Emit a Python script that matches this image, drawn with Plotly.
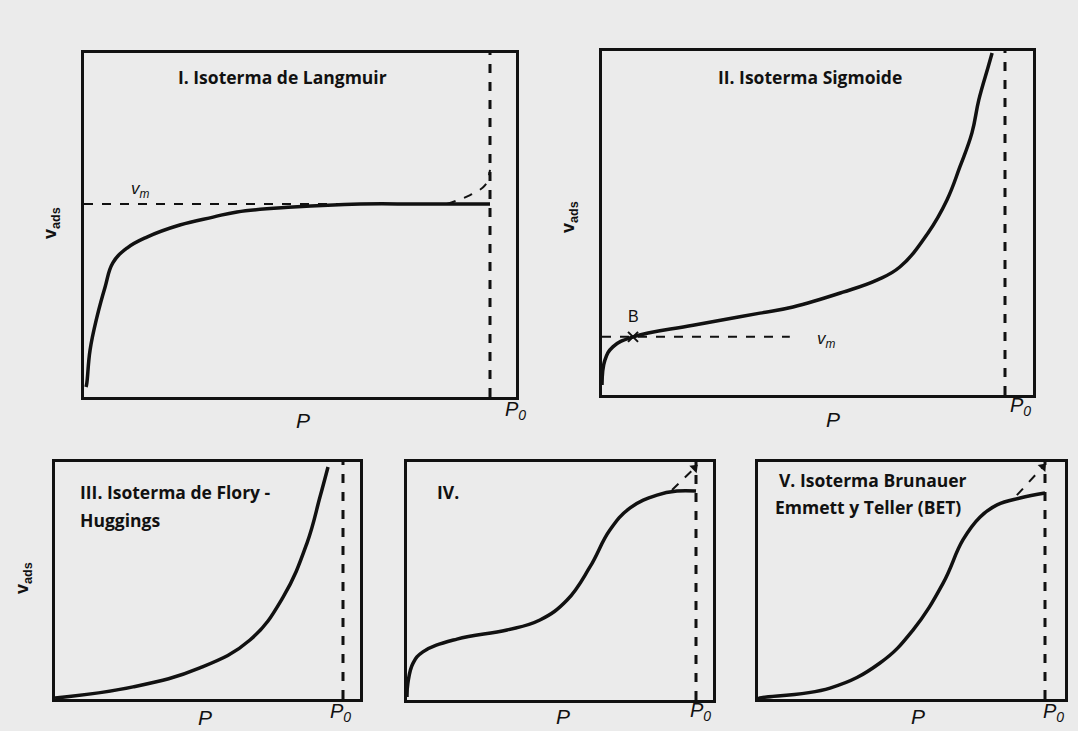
import math
import plotly.graph_objects as go

W, H = 1078, 731

# ---------------- data (relative pressure P/P0, relative adsorbed volume) ----------------
# Panel I - Langmuir
p1_x = [0.005, 0.007, 0.015, 0.032, 0.052, 0.071, 0.106, 0.155, 0.236, 0.318, 0.377, 0.515, 0.680, 0.828, 1.0]
p1_y = [0.029, 0.041, 0.137, 0.233, 0.320, 0.390, 0.433, 0.465, 0.500, 0.523, 0.538, 0.552, 0.561, 0.561, 0.561]
p1_dev_x = [0.894, 0.951, 0.988, 1.0]
p1_dev_y = [0.561, 0.587, 0.616, 0.66]
p1_vm = 0.561

# Panel II - Sigmoid
p2_x = [0.0, 0.0074, 0.027, 0.077, 0.226, 0.392, 0.474, 0.598, 0.682, 0.739, 0.809, 0.856, 0.888, 0.918, 0.935, 0.958, 0.968]
p2_y = [0.029, 0.102, 0.140, 0.169, 0.203, 0.238, 0.256, 0.299, 0.334, 0.372, 0.471, 0.567, 0.663, 0.762, 0.858, 0.953, 0.994]
p2_vm = 0.169
p2_vm_end = 0.466
p2_B = (0.077, 0.169)

# Panel III - Flory-Huggins
p3_x = [0.0, 0.271, 0.503, 0.677, 0.792, 0.875, 0.920, 0.948]
p3_y = [0.004, 0.051, 0.131, 0.249, 0.430, 0.658, 0.852, 0.979]

# Panel IV
p4_x = [0.0, 0.003, 0.021, 0.055, 0.173, 0.346, 0.460, 0.554, 0.633, 0.702, 0.772, 0.865, 0.934, 1.0]
p4_y = [0.013, 0.071, 0.155, 0.202, 0.256, 0.294, 0.336, 0.420, 0.559, 0.714, 0.807, 0.861, 0.878, 0.878]
p4_dev_x = [0.917, 0.995]
p4_dev_y = [0.882, 0.975]

# Panel V - BET
p5_x = [0.0, 0.007, 0.251, 0.425, 0.540, 0.645, 0.714, 0.774, 0.833, 0.913, 1.0]
p5_y = [0.0, 0.004, 0.046, 0.152, 0.291, 0.489, 0.671, 0.768, 0.819, 0.848, 0.869]
p5_dev_x = [0.902, 0.993]
p5_dev_y = [0.860, 0.980]

title_lines = [["I. Isoterma de Langmuir"], ["II. Isoterma Sigmoide"],
               ["III. Isoterma de Flory -", "Huggings"], ["IV."],
               ["V. Isoterma Brunauer", "Emmett y Teller (BET)"]]

# ---------------- layout geometry (pixel boxes) ----------------
boxes = [  # left, right, p0 x, top, bottom
    (84, 516, 490, 53, 397),
    (602, 1033, 1005, 51, 395),
    (55, 360, 343, 462, 699),
    (407, 713, 696, 462, 700),
    (758, 1065, 1045, 462, 699),
]

BG = "#ebebeb"
INK = "#111111"
fig = go.Figure()
layout = dict(width=W, height=H, margin=dict(l=0, r=0, t=0, b=0),
              paper_bgcolor=BG, plot_bgcolor=BG, showlegend=False,
              font=dict(family="Liberation Sans", color=INK, size=16))

def ax_names(i):
    n = "" if i == 0 else str(i + 1)
    return "x" + n, "y" + n, "xaxis" + n, "yaxis" + n

for i, (l, r, p0, t, b) in enumerate(boxes):
    xr, yr, xk, yk = ax_names(i)
    xmax = (r - l) / (p0 - l)
    common = dict(showticklabels=False, ticks="", showgrid=False, zeroline=False,
                  showline=True, mirror=True, linecolor=INK, linewidth=2.5, fixedrange=True)
    layout[xk] = dict(domain=[l / W, r / W], range=[0, xmax], anchor=yr, **common)
    layout[yk] = dict(domain=[1 - b / H, 1 - t / H], range=[0, 1], anchor=xr, **common)
    # P0 vertical dashed line
    fig.add_trace(go.Scatter(x=[1, 1], y=[0, 1], mode="lines", xaxis=xr, yaxis=yr,
                             line=dict(color=INK, width=3, dash="dash"), hoverinfo="skip"))

curves = [(p1_x, p1_y), (p2_x, p2_y), (p3_x, p3_y), (p4_x, p4_y), (p5_x, p5_y)]
for i, (cx, cy) in enumerate(curves):
    xr, yr, _, _ = ax_names(i)
    fig.add_trace(go.Scatter(x=cx, y=cy, mode="lines", xaxis=xr, yaxis=yr,
                             line=dict(color=INK, width=3.5, shape="spline", smoothing=1.2)))

# Panel I: vm dashed + deviation
fig.add_trace(go.Scatter(x=[0, 1], y=[p1_vm, p1_vm], mode="lines", xaxis="x", yaxis="y",
                         line=dict(color=INK, width=2, dash="dash")))
fig.add_trace(go.Scatter(x=p1_dev_x, y=p1_dev_y, mode="lines", xaxis="x", yaxis="y",
                         line=dict(color=INK, width=2, dash="dash", shape="spline")))
# Panel II: vm dashed + B marker
fig.add_trace(go.Scatter(x=[0, p2_vm_end], y=[p2_vm, p2_vm], mode="lines", xaxis="x2", yaxis="y2",
                         line=dict(color=INK, width=2, dash="dash")))
fig.add_trace(go.Scatter(x=[p2_B[0]], y=[p2_B[1]], mode="markers", xaxis="x2", yaxis="y2",
                         marker=dict(symbol="x-thin", size=10, line=dict(color=INK, width=2))))

# Panels IV and V: dashed deviations ending in an arrow head
for idx, dx, dy in [(3, p4_dev_x, p4_dev_y), (4, p5_dev_x, p5_dev_y)]:
    xr, yr, _, _ = ax_names(idx)
    l, r, p0, t, b = boxes[idx]
    px_per_x = (p0 - l)
    px_per_y = (b - t)
    ang = math.degrees(math.atan2((dx[1] - dx[0]) * px_per_x, (dy[1] - dy[0]) * px_per_y))
    fig.add_trace(go.Scatter(x=dx, y=dy, mode="lines", xaxis=xr, yaxis=yr,
                             line=dict(color=INK, width=2, dash="dash")))
    fig.add_trace(go.Scatter(x=[dx[1]], y=[dy[1]], mode="markers", xaxis=xr, yaxis=yr,
                             marker=dict(symbol="triangle-up", size=9, angle=ang, color=INK)))

ann = []
def txt(x, y, s, size=16, xanchor="center", yanchor="middle", angle=0,
        family="Open Sans"):
    ann.append(dict(x=x / W, y=1 - y / H, xref="paper", yref="paper", text=s, showarrow=False,
                    xanchor=xanchor, yanchor=yanchor, textangle=angle, align="left",
                    font=dict(size=size, family=family, color=INK)))

# titles
TS = 17.5
txt(282, 77, "<b>" + title_lines[0][0] + "</b>", size=TS)
txt(810, 77, "<b>" + title_lines[1][0] + "</b>", size=TS)
txt(78, 492, "<b>" + title_lines[2][0] + "</b>", size=TS, xanchor="left")
txt(78, 520, "<b>" + title_lines[2][1] + "</b>", size=TS, xanchor="left")
txt(435, 492, "<b>" + title_lines[3][0] + "</b>", size=TS, xanchor="left")
txt(777, 480, "<b>" + title_lines[4][0] + "</b>", size=TS, xanchor="left")
txt(773, 507, "<b>" + title_lines[4][1] + "</b>", size=TS, xanchor="left")

# axis labels
for px, py in [(303, 420), (833, 419), (205, 717), (563, 716), (918, 716)]:
    txt(px, py, "<i>P</i>", size=21, family="Liberation Sans")
for px, py in [(515, 410), (1020, 407), (340, 712), (700, 711), (1053, 712)]:
    txt(px, py, "<i>P<sub>0</sub></i>", size=20, family="Liberation Sans")
for px, py in [(52, 223), (570, 217), (23, 578)]:
    txt(px, py, "<b>v<sub>ads</sub></b>", size=18, angle=-90, family="Liberation Sans")

# vm and B labels
txt(140, 190, "<i>v<sub>m</sub></i>", size=17, family="Liberation Sans")
txt(826, 340, "<i>v<sub>m</sub></i>", size=17, family="Liberation Sans")
txt(633, 316, "B", size=16, family="Liberation Sans")

layout["annotations"] = ann
fig.update_layout(**layout)
fig.write_html("out.html")
